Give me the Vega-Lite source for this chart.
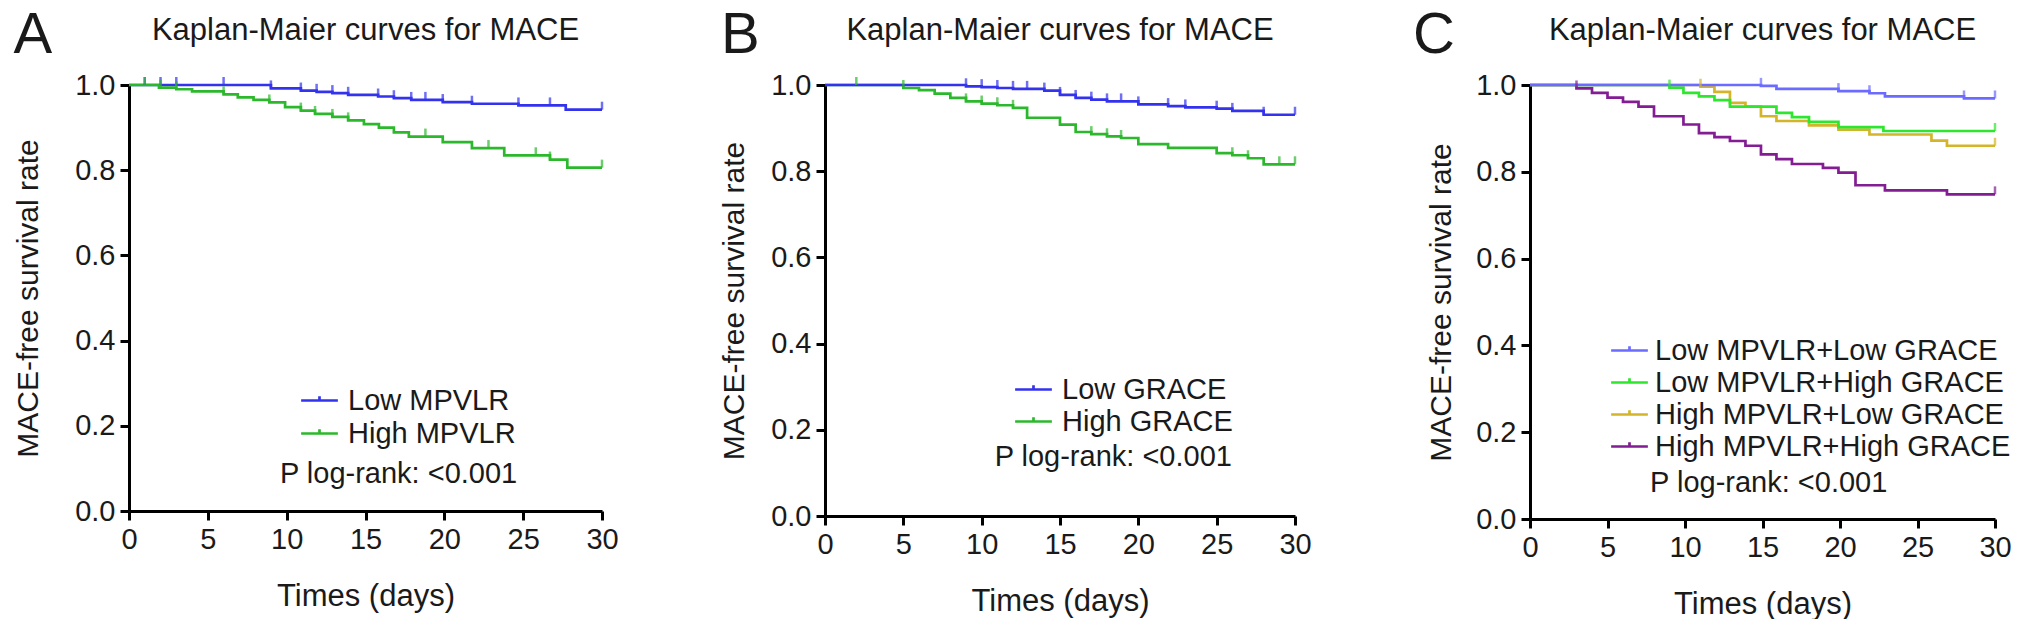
{
  "$schema": "https://vega.github.io/schema/vega-lite/v6.json",
  "padding": {"left": 13, "top": 6, "right": 0, "bottom": 0},
  "background": "white",
  "spacing": 100,
  "align": "none",
  "datasets": {
    "a": [
      {"g": "Low MPVLR", "t": 0, "s": 1, "c": 0},
      {"g": "Low MPVLR", "t": 1.0, "s": 1, "c": 1},
      {"g": "Low MPVLR", "t": 2.0, "s": 1, "c": 1},
      {"g": "Low MPVLR", "t": 3.0, "s": 1, "c": 1},
      {"g": "Low MPVLR", "t": 6.0, "s": 1, "c": 1},
      {"g": "Low MPVLR", "t": 9.0, "s": 0.992, "c": 1},
      {"g": "Low MPVLR", "t": 10.9, "s": 0.987, "c": 1},
      {"g": "Low MPVLR", "t": 11.9, "s": 0.984, "c": 1},
      {"g": "Low MPVLR", "t": 12.9, "s": 0.981, "c": 1},
      {"g": "Low MPVLR", "t": 13.9, "s": 0.977, "c": 1},
      {"g": "Low MPVLR", "t": 15.8, "s": 0.973, "c": 1},
      {"g": "Low MPVLR", "t": 16.8, "s": 0.969, "c": 1},
      {"g": "Low MPVLR", "t": 17.9, "s": 0.965, "c": 1},
      {"g": "Low MPVLR", "t": 18.8, "s": 0.965, "c": 1},
      {"g": "Low MPVLR", "t": 19.9, "s": 0.960, "c": 1},
      {"g": "Low MPVLR", "t": 21.75, "s": 0.956, "c": 1},
      {"g": "Low MPVLR", "t": 24.7, "s": 0.952, "c": 1},
      {"g": "Low MPVLR", "t": 26.7, "s": 0.952, "c": 1},
      {"g": "Low MPVLR", "t": 27.7, "s": 0.942, "c": 0},
      {"g": "Low MPVLR", "t": 30, "s": 0.942, "c": 1},
      {"g": "High MPVLR", "t": 0, "s": 1, "c": 0},
      {"g": "High MPVLR", "t": 1.0, "s": 1, "c": 1},
      {"g": "High MPVLR", "t": 1.9, "s": 0.994, "c": 0},
      {"g": "High MPVLR", "t": 2.0, "s": 0.994, "c": 1},
      {"g": "High MPVLR", "t": 3.0, "s": 0.990, "c": 1},
      {"g": "High MPVLR", "t": 4.0, "s": 0.985, "c": 0},
      {"g": "High MPVLR", "t": 6.0, "s": 0.978, "c": 1},
      {"g": "High MPVLR", "t": 6.9, "s": 0.971, "c": 0},
      {"g": "High MPVLR", "t": 7.9, "s": 0.965, "c": 0},
      {"g": "High MPVLR", "t": 8.9, "s": 0.959, "c": 1},
      {"g": "High MPVLR", "t": 9.9, "s": 0.948, "c": 0},
      {"g": "High MPVLR", "t": 10.9, "s": 0.940, "c": 1},
      {"g": "High MPVLR", "t": 11.8, "s": 0.932, "c": 1},
      {"g": "High MPVLR", "t": 12.9, "s": 0.925, "c": 1},
      {"g": "High MPVLR", "t": 13.9, "s": 0.917, "c": 1},
      {"g": "High MPVLR", "t": 14.9, "s": 0.908, "c": 0},
      {"g": "High MPVLR", "t": 15.85, "s": 0.900, "c": 0},
      {"g": "High MPVLR", "t": 16.8, "s": 0.889, "c": 0},
      {"g": "High MPVLR", "t": 17.75, "s": 0.879, "c": 0},
      {"g": "High MPVLR", "t": 18.8, "s": 0.879, "c": 1},
      {"g": "High MPVLR", "t": 19.9, "s": 0.866, "c": 0},
      {"g": "High MPVLR", "t": 21.75, "s": 0.852, "c": 0},
      {"g": "High MPVLR", "t": 22.8, "s": 0.852, "c": 1},
      {"g": "High MPVLR", "t": 23.8, "s": 0.835, "c": 0},
      {"g": "High MPVLR", "t": 25.8, "s": 0.835, "c": 1},
      {"g": "High MPVLR", "t": 26.7, "s": 0.825, "c": 1},
      {"g": "High MPVLR", "t": 27.8, "s": 0.806, "c": 0},
      {"g": "High MPVLR", "t": 30, "s": 0.806, "c": 1}
    ],
    "b": [
      {"g": "High GRACE", "t": 0, "s": 1, "c": 0},
      {"g": "High GRACE", "t": 2.0, "s": 1, "c": 1},
      {"g": "High GRACE", "t": 5.0, "s": 0.993, "c": 1},
      {"g": "High GRACE", "t": 6.0, "s": 0.988, "c": 0},
      {"g": "High GRACE", "t": 7.0, "s": 0.980, "c": 0},
      {"g": "High GRACE", "t": 8.0, "s": 0.970, "c": 0},
      {"g": "High GRACE", "t": 9.0, "s": 0.962, "c": 1},
      {"g": "High GRACE", "t": 10.0, "s": 0.957, "c": 1},
      {"g": "High GRACE", "t": 11.0, "s": 0.953, "c": 1},
      {"g": "High GRACE", "t": 12.0, "s": 0.947, "c": 1},
      {"g": "High GRACE", "t": 12.9, "s": 0.924, "c": 0},
      {"g": "High GRACE", "t": 15.0, "s": 0.908, "c": 0},
      {"g": "High GRACE", "t": 16.0, "s": 0.891, "c": 0},
      {"g": "High GRACE", "t": 17.0, "s": 0.886, "c": 1},
      {"g": "High GRACE", "t": 18.0, "s": 0.881, "c": 1},
      {"g": "High GRACE", "t": 18.9, "s": 0.877, "c": 1},
      {"g": "High GRACE", "t": 20.0, "s": 0.863, "c": 0},
      {"g": "High GRACE", "t": 21.9, "s": 0.854, "c": 0},
      {"g": "High GRACE", "t": 25.0, "s": 0.842, "c": 0},
      {"g": "High GRACE", "t": 26.0, "s": 0.837, "c": 1},
      {"g": "High GRACE", "t": 27.0, "s": 0.830, "c": 1},
      {"g": "High GRACE", "t": 28.0, "s": 0.816, "c": 0},
      {"g": "High GRACE", "t": 29.0, "s": 0.816, "c": 1},
      {"g": "High GRACE", "t": 30, "s": 0.816, "c": 1},
      {"g": "Low GRACE", "t": 0, "s": 1, "c": 0},
      {"g": "Low GRACE", "t": 9.0, "s": 0.997, "c": 1},
      {"g": "Low GRACE", "t": 10.0, "s": 0.995, "c": 1},
      {"g": "Low GRACE", "t": 11.0, "s": 0.993, "c": 1},
      {"g": "Low GRACE", "t": 12.0, "s": 0.991, "c": 1},
      {"g": "Low GRACE", "t": 12.9, "s": 0.991, "c": 1},
      {"g": "Low GRACE", "t": 14.0, "s": 0.987, "c": 1},
      {"g": "Low GRACE", "t": 15.0, "s": 0.977, "c": 1},
      {"g": "Low GRACE", "t": 16.0, "s": 0.970, "c": 1},
      {"g": "Low GRACE", "t": 17.0, "s": 0.966, "c": 1},
      {"g": "Low GRACE", "t": 18.0, "s": 0.962, "c": 1},
      {"g": "Low GRACE", "t": 18.9, "s": 0.962, "c": 1},
      {"g": "Low GRACE", "t": 20.0, "s": 0.955, "c": 1},
      {"g": "Low GRACE", "t": 21.9, "s": 0.951, "c": 1},
      {"g": "Low GRACE", "t": 23.0, "s": 0.948, "c": 1},
      {"g": "Low GRACE", "t": 25.0, "s": 0.945, "c": 1},
      {"g": "Low GRACE", "t": 26.0, "s": 0.940, "c": 1},
      {"g": "Low GRACE", "t": 28.0, "s": 0.931, "c": 1},
      {"g": "Low GRACE", "t": 30, "s": 0.931, "c": 1}
    ],
    "c": [
      {"g": "High MPVLR+High GRACE", "t": 0, "s": 1, "c": 0},
      {"g": "High MPVLR+High GRACE", "t": 3.0, "s": 0.992, "c": 1},
      {"g": "High MPVLR+High GRACE", "t": 4.0, "s": 0.982, "c": 0},
      {"g": "High MPVLR+High GRACE", "t": 5.0, "s": 0.971, "c": 0},
      {"g": "High MPVLR+High GRACE", "t": 6.0, "s": 0.961, "c": 0},
      {"g": "High MPVLR+High GRACE", "t": 7.0, "s": 0.950, "c": 0},
      {"g": "High MPVLR+High GRACE", "t": 8.0, "s": 0.928, "c": 0},
      {"g": "High MPVLR+High GRACE", "t": 9.9, "s": 0.909, "c": 0},
      {"g": "High MPVLR+High GRACE", "t": 10.9, "s": 0.889, "c": 0},
      {"g": "High MPVLR+High GRACE", "t": 11.9, "s": 0.880, "c": 0},
      {"g": "High MPVLR+High GRACE", "t": 12.9, "s": 0.871, "c": 0},
      {"g": "High MPVLR+High GRACE", "t": 13.9, "s": 0.860, "c": 0},
      {"g": "High MPVLR+High GRACE", "t": 14.9, "s": 0.840, "c": 0},
      {"g": "High MPVLR+High GRACE", "t": 15.9, "s": 0.829, "c": 0},
      {"g": "High MPVLR+High GRACE", "t": 16.9, "s": 0.818, "c": 0},
      {"g": "High MPVLR+High GRACE", "t": 18.9, "s": 0.809, "c": 0},
      {"g": "High MPVLR+High GRACE", "t": 19.9, "s": 0.798, "c": 0},
      {"g": "High MPVLR+High GRACE", "t": 21.0, "s": 0.769, "c": 0},
      {"g": "High MPVLR+High GRACE", "t": 22.9, "s": 0.757, "c": 0},
      {"g": "High MPVLR+High GRACE", "t": 26.9, "s": 0.748, "c": 0},
      {"g": "High MPVLR+High GRACE", "t": 30, "s": 0.748, "c": 1},
      {"g": "High MPVLR+Low GRACE", "t": 0, "s": 1, "c": 0},
      {"g": "High MPVLR+Low GRACE", "t": 11.0, "s": 0.996, "c": 1},
      {"g": "High MPVLR+Low GRACE", "t": 11.9, "s": 0.984, "c": 0},
      {"g": "High MPVLR+Low GRACE", "t": 12.9, "s": 0.959, "c": 0},
      {"g": "High MPVLR+Low GRACE", "t": 13.9, "s": 0.950, "c": 0},
      {"g": "High MPVLR+Low GRACE", "t": 14.9, "s": 0.928, "c": 0},
      {"g": "High MPVLR+Low GRACE", "t": 15.9, "s": 0.917, "c": 0},
      {"g": "High MPVLR+Low GRACE", "t": 18.0, "s": 0.907, "c": 0},
      {"g": "High MPVLR+Low GRACE", "t": 19.9, "s": 0.897, "c": 0},
      {"g": "High MPVLR+Low GRACE", "t": 21.9, "s": 0.886, "c": 0},
      {"g": "High MPVLR+Low GRACE", "t": 25.9, "s": 0.872, "c": 0},
      {"g": "High MPVLR+Low GRACE", "t": 26.9, "s": 0.860, "c": 0},
      {"g": "High MPVLR+Low GRACE", "t": 30, "s": 0.860, "c": 1},
      {"g": "Low MPVLR+High GRACE", "t": 0, "s": 1, "c": 0},
      {"g": "Low MPVLR+High GRACE", "t": 9.0, "s": 0.994, "c": 1},
      {"g": "Low MPVLR+High GRACE", "t": 9.9, "s": 0.982, "c": 0},
      {"g": "Low MPVLR+High GRACE", "t": 10.9, "s": 0.974, "c": 0},
      {"g": "Low MPVLR+High GRACE", "t": 11.9, "s": 0.965, "c": 0},
      {"g": "Low MPVLR+High GRACE", "t": 12.9, "s": 0.950, "c": 0},
      {"g": "Low MPVLR+High GRACE", "t": 15.9, "s": 0.936, "c": 0},
      {"g": "Low MPVLR+High GRACE", "t": 16.9, "s": 0.926, "c": 0},
      {"g": "Low MPVLR+High GRACE", "t": 18.0, "s": 0.915, "c": 0},
      {"g": "Low MPVLR+High GRACE", "t": 19.9, "s": 0.903, "c": 0},
      {"g": "Low MPVLR+High GRACE", "t": 22.8, "s": 0.894, "c": 0},
      {"g": "Low MPVLR+High GRACE", "t": 30, "s": 0.894, "c": 1},
      {"g": "Low MPVLR+Low GRACE", "t": 0, "s": 1, "c": 0},
      {"g": "Low MPVLR+Low GRACE", "t": 14.9, "s": 0.998, "c": 1},
      {"g": "Low MPVLR+Low GRACE", "t": 15.9, "s": 0.991, "c": 0},
      {"g": "Low MPVLR+Low GRACE", "t": 19.9, "s": 0.986, "c": 1},
      {"g": "Low MPVLR+Low GRACE", "t": 21.9, "s": 0.981, "c": 1},
      {"g": "Low MPVLR+Low GRACE", "t": 22.9, "s": 0.974, "c": 0},
      {"g": "Low MPVLR+Low GRACE", "t": 28.0, "s": 0.969, "c": 1},
      {"g": "Low MPVLR+Low GRACE", "t": 30, "s": 0.969, "c": 1}
    ]
  },
  "hconcat": [
    {
      "width": 473,
      "height": 426,
      "title": "Kaplan-Maier curves for MACE",
      "data": {"name": "a"},
      "layer": [
        {
          "mark": {"type": "line", "interpolate": "step-after", "strokeWidth": 2.7},
          "encoding": {
            "x": {"field": "t", "type": "quantitative", "scale": {"domain": [0, 30]},
              "axis": {"values": [0, 5, 10, 15, 20, 25, 30], "title": "Times (days)", "titlePadding": 27, "labelFlush": false}},
            "y": {"field": "s", "type": "quantitative", "scale": {"domain": [0, 1]},
              "axis": {"values": [0, 0.2, 0.4, 0.6, 0.8, 1], "format": ".1f", "title": "MACE-free survival rate", "titlePadding": 31, "labelFlush": false}},
            "color": {"field": "g", "type": "nominal",
              "scale": {"domain": ["Low MPVLR", "High MPVLR"], "range": ["#3333ee", "#2cb82c"]},
              "legend": {"orient": "none", "legendX": 176, "legendY": 301, "title": null,
                "symbolType": "M-1.5,0H1.5M0,0V-0.35", "symbolSize": 600, "symbolStrokeWidth": 2.7,
                "labelFontSize": 29, "labelOffset": 14, "labelLimit": 600, "rowPadding": 3, "labelColor": "#1a1a1a"}}
          }
        },
        {
          "transform": [{"filter": "datum.c == 1"}],
          "mark": {"type": "tick", "orient": "vertical", "size": 8, "thickness": 2.5, "yOffset": -4},
          "encoding": {
            "x": {"field": "t", "type": "quantitative"},
            "y": {"field": "s", "type": "quantitative"},
            "color": {"field": "g", "type": "nominal", "legend": null}
          }
        },
        {
          "data": {"values": [{}]},
          "mark": {"type": "text", "text": "P log-rank: <0.001", "fontSize": 29, "align": "center", "baseline": "middle", "color": "#1a1a1a"},
          "encoding": {"x": {"datum": 17.1, "type": "quantitative"}, "y": {"datum": 0.087, "type": "quantitative"}}
        },
        {
          "data": {"values": [{}]},
          "mark": {"type": "text", "text": "A", "fontSize": 58, "align": "center", "baseline": "alphabetic", "color": "#1a1a1a"},
          "encoding": {"x": {"datum": -6.1, "type": "quantitative"}, "y": {"datum": 1.075, "type": "quantitative"}}
        }
      ]
    },
    {
      "width": 470,
      "height": 431,
      "title": "Kaplan-Maier curves for MACE",
      "data": {"name": "b"},
      "layer": [
        {
          "mark": {"type": "line", "interpolate": "step-after", "strokeWidth": 2.7},
          "encoding": {
            "x": {"field": "t", "type": "quantitative", "scale": {"domain": [0, 30]},
              "axis": {"values": [0, 5, 10, 15, 20, 25, 30], "title": "Times (days)", "titlePadding": 27, "labelFlush": false}},
            "y": {"field": "s", "type": "quantitative", "scale": {"domain": [0, 1]},
              "axis": {"values": [0, 0.2, 0.4, 0.6, 0.8, 1], "format": ".1f", "title": "MACE-free survival rate", "titlePadding": 21, "labelFlush": false}},
            "color": {"field": "g", "type": "nominal",
              "scale": {"domain": ["Low GRACE", "High GRACE"], "range": ["#3333ee", "#2cb82c"]},
              "legend": {"orient": "none", "legendX": 194, "legendY": 290, "title": null,
                "symbolType": "M-1.5,0H1.5M0,0V-0.35", "symbolSize": 600, "symbolStrokeWidth": 2.7,
                "labelFontSize": 29, "labelOffset": 14, "labelLimit": 600, "rowPadding": 2, "labelColor": "#1a1a1a"}}
          }
        },
        {
          "transform": [{"filter": "datum.c == 1"}],
          "mark": {"type": "tick", "orient": "vertical", "size": 8, "thickness": 2.5, "yOffset": -4},
          "encoding": {
            "x": {"field": "t", "type": "quantitative"},
            "y": {"field": "s", "type": "quantitative"},
            "color": {"field": "g", "type": "nominal", "legend": null}
          }
        },
        {
          "data": {"values": [{}]},
          "mark": {"type": "text", "text": "P log-rank: <0.001", "fontSize": 29, "align": "center", "baseline": "middle", "color": "#1a1a1a"},
          "encoding": {"x": {"datum": 18.4, "type": "quantitative"}, "y": {"datum": 0.137, "type": "quantitative"}}
        },
        {
          "data": {"values": [{}]},
          "mark": {"type": "text", "text": "B", "fontSize": 58, "align": "center", "baseline": "alphabetic", "color": "#1a1a1a"},
          "encoding": {"x": {"datum": -5.4, "type": "quantitative"}, "y": {"datum": 1.074, "type": "quantitative"}}
        }
      ]
    },
    {
      "width": 465,
      "height": 434,
      "title": "Kaplan-Maier curves for MACE",
      "data": {"name": "c"},
      "layer": [
        {
          "mark": {"type": "line", "interpolate": "step-after", "strokeWidth": 2.7},
          "encoding": {
            "x": {"field": "t", "type": "quantitative", "scale": {"domain": [0, 30]},
              "axis": {"values": [0, 5, 10, 15, 20, 25, 30], "title": "Times (days)", "titlePadding": 27, "labelFlush": false}},
            "y": {"field": "s", "type": "quantitative", "scale": {"domain": [0, 1]},
              "axis": {"values": [0, 0.2, 0.4, 0.6, 0.8, 1], "format": ".1f", "title": "MACE-free survival rate", "titlePadding": 19, "labelFlush": false}},
            "color": {"field": "g", "type": "nominal",
              "scale": {"domain": ["Low MPVLR+Low GRACE", "Low MPVLR+High GRACE", "High MPVLR+Low GRACE", "High MPVLR+High GRACE"],
                "range": ["#6b6bff", "#2ee62e", "#d4b52a", "#821d93"]},
              "legend": {"orient": "none", "legendX": 85, "legendY": 251, "title": null,
                "symbolType": "M-1.5,0H1.5M0,0V-0.35", "symbolSize": 600, "symbolStrokeWidth": 2.7,
                "labelFontSize": 29, "labelOffset": 11, "labelLimit": 600, "rowPadding": 2, "labelColor": "#1a1a1a"}}
          }
        },
        {
          "transform": [{"filter": "datum.c == 1"}],
          "mark": {"type": "tick", "orient": "vertical", "size": 8, "thickness": 2.5, "yOffset": -4},
          "encoding": {
            "x": {"field": "t", "type": "quantitative"},
            "y": {"field": "s", "type": "quantitative"},
            "color": {"field": "g", "type": "nominal", "legend": null}
          }
        },
        {
          "data": {"values": [{}]},
          "mark": {"type": "text", "text": "P log-rank: <0.001", "fontSize": 29, "align": "center", "baseline": "middle", "color": "#1a1a1a"},
          "encoding": {"x": {"datum": 15.4, "type": "quantitative"}, "y": {"datum": 0.083, "type": "quantitative"}}
        },
        {
          "data": {"values": [{}]},
          "mark": {"type": "text", "text": "C", "fontSize": 58, "align": "center", "baseline": "alphabetic", "color": "#1a1a1a"},
          "encoding": {"x": {"datum": -6.2, "type": "quantitative"}, "y": {"datum": 1.074, "type": "quantitative"}}
        }
      ]
    }
  ],
  "resolve": {"scale": {"color": "independent", "x": "independent", "y": "independent"}, "legend": {"color": "independent"}},
  "config": {
    "font": "Liberation Sans",
    "view": {"stroke": null},
    "axis": {
      "domainColor": "#000", "domainWidth": 3, "tickColor": "#000", "tickWidth": 3, "tickSize": 9,
      "labelFontSize": 29, "labelColor": "#1a1a1a", "labelPadding": 5,
      "titleFontSize": 30, "titleFontWeight": "normal", "titleColor": "#1a1a1a", "grid": false
    },
    "axisX": {"titleFontSize": 31},
    "title": {"fontSize": 31, "fontWeight": "normal", "color": "#1a1a1a", "anchor": "middle", "offset": -40},
    "text": {"font": "Liberation Sans"}
  }
}
